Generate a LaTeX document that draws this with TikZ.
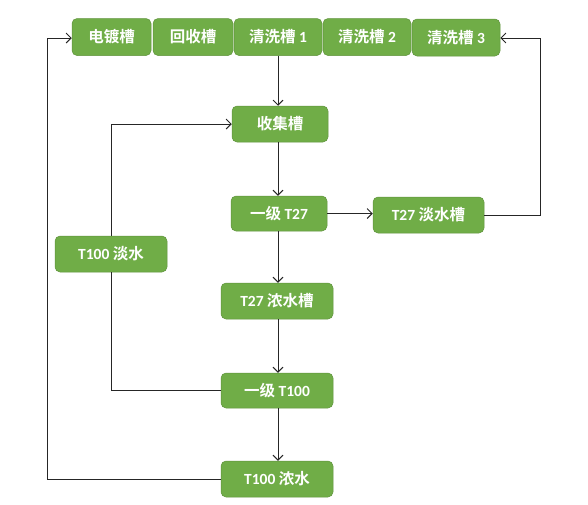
\documentclass[tikz,border=0pt]{standalone}
\usepackage{fontspec}
\setmainfont{Carlito}
\newfontfamily\cjkfont{Noto Sans CJK SC}[BoldFont={* Bold}]
\newcommand{\zh}[1]{{\cjkfont\bfseries #1}}
\usetikzlibrary{arrows.meta,calc}
\definecolor{boxgreen}{HTML}{70AD47}
\definecolor{linegray}{HTML}{262626}
\tikzset{
  box/.style={draw=boxgreen!85!black, line width=0.5pt, fill=boxgreen, rounded corners=5pt,
    text=white, font=\fontsize{15.5}{18}\selectfont\bfseries,
    inner sep=0pt, minimum height=37pt},
  conn/.style={draw=linegray, line width=0.9pt},
  arr/.style={conn, -{Straight Barb[length=5pt,width=10pt,line width=0.9pt]}}
}
\begin{document}
\begin{tikzpicture}[x=1pt,y=-1pt]
\useasboundingbox (0,0) rectangle (588,504);
% top row
\node[box, minimum width=79pt] (dd) at (111.5,37) {\zh{电镀槽}};
\node[box, minimum width=80pt] (hs) at (193,37) {\zh{回收槽}};
\node[box, minimum width=88pt] (q1) at (278,37) {\zh{清洗槽} 1};
\node[box, minimum width=88pt] (q2) at (367,37) {\zh{清洗槽} 2};
\node[box, minimum width=88pt] (q3) at (456,37.5) {\zh{清洗槽} 3};
% column
\node[box, minimum width=96pt, minimum height=36pt] (sj) at (280,124) {\zh{收集槽}};
\node[box, minimum width=96pt, minimum height=35pt] (e27) at (279,213.5) {\zh{一级} T27};
\node[box, minimum width=111pt, minimum height=36pt] (d27) at (428.5,215) {T27 \zh{淡水槽}};
\node[box, minimum width=112pt, minimum height=36pt] (d100) at (111,254) {T100 \zh{淡水}};
\node[box, minimum width=112pt, minimum height=36pt] (n27) at (277,301) {T27 \zh{浓水槽}};
\node[box, minimum width=112pt, minimum height=35pt] (e100) at (277,390.5) {\zh{一级} T100};
\node[box, minimum width=112pt, minimum height=36pt] (n100) at (277,479) {T100 \zh{浓水}};
\coordinate (rc) at (540,38);
\coordinate (lc) at (47,38);
\coordinate (cx) at (278,0);
% connectors
\draw[arr] (cx |- q1.south) -- (cx |- sj.north);
\draw[arr] (cx |- sj.south) -- (cx |- e27.north);
\draw[arr] (e27.east) -- (e27.east -| d27.west);
\draw[arr] (d27.east) -| (rc) -- (rc -| q3.east);
\draw[arr] (cx |- e27.south) -- (cx |- n27.north);
\draw[arr] (cx |- n27.south) -- (cx |- e100.north);
\draw[arr] (cx |- e100.south) -- (cx |- n100.north);
\draw[conn] (e100.west) -| (d100.south);
\draw[arr] (d100.north) |- (sj.west);
\draw[arr] (n100.west) -| (lc) -- (lc -| dd.west);
\end{tikzpicture}
\end{document}
